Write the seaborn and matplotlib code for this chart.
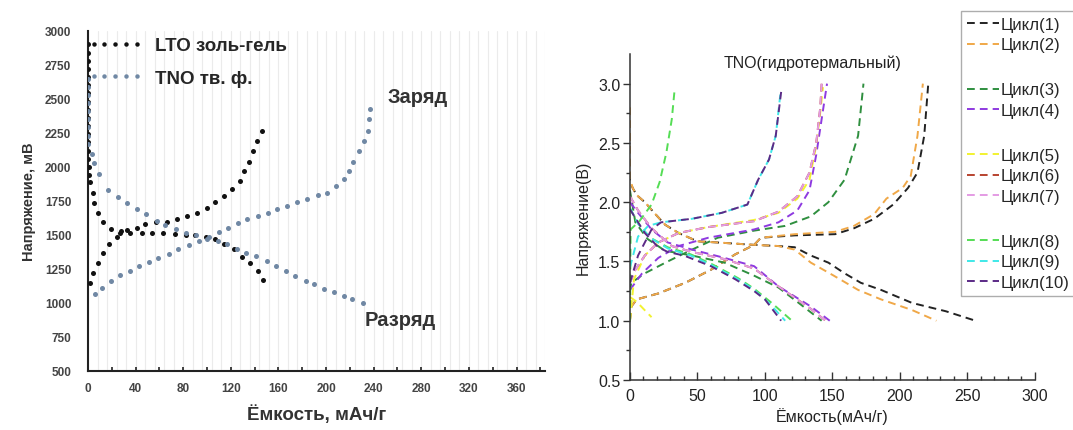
import matplotlib
matplotlib.use("Agg")
import matplotlib.pyplot as plt
from matplotlib.lines import Line2D
import pandas as pd
import seaborn as sns

# ---------- left panel: LTO vs TNO (mV vs mAh/g) ----------
lto_dis_x = [0, 0, 0, 0, 0, 0, 0, 0, 0, 0, 0, 0, 0, 0, 0, 1, 1, 2, 4, 5, 8, 13, 19, 27, 35, 45, 54, 63,
             73, 82, 90, 99, 107, 114, 123, 129, 136, 143, 147]
lto_dis_y = [2900, 2840, 2780, 2720, 2660, 2600, 2540, 2480, 2420, 2360, 2300, 2240, 2180, 2120, 2060,
             2000, 1940, 1890, 1810, 1733, 1664, 1596, 1542, 1517, 1512, 1512, 1512, 1512, 1507, 1502,
             1497, 1488, 1468, 1431, 1399, 1341, 1297, 1235, 1169]
lto_ch_x = [2, 4, 8, 13, 18, 24, 28, 33, 41, 48, 57, 66, 75, 83, 92, 100, 107, 114, 121, 128, 131, 135,
            139, 142, 146]
lto_ch_y = [1150, 1223, 1297, 1365, 1431, 1488, 1527, 1537, 1554, 1578, 1596, 1596, 1615, 1640, 1664,
            1701, 1743, 1787, 1841, 1897, 1971, 2037, 2118, 2191, 2265]

tno_dis_x = [0, 0, 0, 0, 0, 0, 0, 0, 0, 3, 5, 9, 17, 25, 33, 41, 49, 58, 65, 74, 82, 91, 100, 109, 117,
             125, 133, 141, 150, 158, 166, 174, 183, 190, 198, 207, 215, 222, 231]
tno_dis_y = [2650, 2590, 2530, 2470, 2410, 2350, 2290, 2230, 2170, 2093, 2032, 1946, 1830, 1780, 1733,
             1689, 1652, 1603, 1571, 1542, 1517, 1497, 1473, 1456, 1431, 1399, 1370, 1346, 1309, 1272,
             1235, 1198, 1162, 1137, 1105, 1081, 1051, 1032, 1002]
tno_ch_x = [6, 12, 19, 27, 35, 43, 51, 59, 68, 76, 85, 93, 102, 110, 118, 126, 134, 143, 151, 159, 167,
            176, 184, 193, 201, 208, 215, 219, 223, 228, 232, 235, 236, 237]
tno_ch_y = [1064, 1113, 1162, 1204, 1235, 1272, 1301, 1333, 1358, 1395, 1424, 1456, 1488, 1522, 1554,
            1591, 1615, 1640, 1664, 1689, 1713, 1743, 1767, 1792, 1811, 1860, 1909, 1970, 2037, 2118,
            2191, 2265, 2350, 2424]

left_xticks = [0, 40, 80, 120, 160, 200, 240, 280, 320, 360]
left_yticks = [500, 750, 1000, 1250, 1500, 1750, 2000, 2250, 2500, 2750, 3000]

# ---------- right panel: TNO hydrothermal, 10 cycles (V vs mAh/g) ----------
c1_dis_x = [0, 0, 2, 5, 11, 18, 26, 36, 50, 65, 92, 110, 122, 134, 147, 159, 171, 186, 209, 234, 256]
c1_dis_y = [2.25, 2.18, 2.12, 2.06, 2.0, 1.91, 1.81, 1.74, 1.67, 1.66, 1.64, 1.63, 1.62, 1.55, 1.49,
            1.40, 1.32, 1.26, 1.15, 1.08, 1.0]
c1_ch_x = [0, 1, 5, 21, 41, 60, 78, 92, 97, 122, 152, 166, 181, 195, 206, 213, 218, 221]
c1_ch_y = [1.0, 1.12, 1.18, 1.23, 1.32, 1.43, 1.56, 1.64, 1.70, 1.72, 1.73, 1.78, 1.86, 1.98, 2.12,
           2.25, 2.56, 3.0]

c2_dis_x = [0, 0, 0, 2, 5, 11, 18, 26, 36, 50, 65, 92, 110, 122, 134, 151, 169, 186, 209, 227]
c2_dis_y = [2.8, 2.5, 2.2, 2.12, 2.06, 2.0, 1.91, 1.81, 1.74, 1.67, 1.66, 1.64, 1.63, 1.60, 1.49, 1.38,
            1.26, 1.18, 1.09, 1.0]
c2_ch_x = [0, 1, 5, 21, 41, 60, 78, 92, 97, 122, 152, 166, 181, 190, 202, 208, 213, 217]
c2_ch_y = [1.0, 1.12, 1.18, 1.23, 1.32, 1.43, 1.56, 1.64, 1.70, 1.73, 1.75, 1.80, 1.90, 2.03, 2.12,
           2.22, 2.56, 3.0]

c3_dis_x = [0, 4, 13, 26, 46, 70, 92, 110, 125, 142]
c3_dis_y = [2.1, 1.83, 1.69, 1.59, 1.55, 1.49, 1.38, 1.28, 1.15, 1.0]
c3_ch_x = [0, 1, 11, 28, 46, 65, 92, 115, 134, 147, 159, 169, 173]
c3_ch_y = [1.25, 1.32, 1.40, 1.50, 1.60, 1.70, 1.76, 1.80, 1.88, 2.0, 2.19, 2.56, 3.0]

c4_dis_x = [0, 6, 16, 28, 46, 70, 92, 110, 134, 148]
c4_dis_y = [2.0, 1.91, 1.77, 1.66, 1.60, 1.53, 1.46, 1.29, 1.12, 1.0]
c4_ch_x = [0, 9, 21, 36, 58, 92, 110, 124, 133, 138, 142, 146]
c4_ch_y = [1.26, 1.40, 1.53, 1.63, 1.70, 1.77, 1.83, 1.93, 2.10, 2.40, 2.70, 3.0]

c5_dis_x = [0, 5, 10, 16]
c5_dis_y = [1.2, 1.16, 1.10, 1.03]
c5_ch_x = [0, 3, 11, 21, 36, 58, 92, 110, 124, 133, 138, 141, 143]
c5_ch_y = [1.0, 1.35, 1.55, 1.66, 1.74, 1.79, 1.85, 1.91, 2.03, 2.19, 2.48, 2.76, 2.97]

c6_dis_x = [0, 6, 16, 31, 46, 70, 92, 110, 134, 145]
c6_dis_y = [2.05, 1.93, 1.78, 1.63, 1.58, 1.52, 1.44, 1.29, 1.10, 1.0]
c6_ch_x = [0, 4, 11, 21, 36, 58, 92, 110, 124, 133, 138, 141, 142]
c6_ch_y = [1.32, 1.43, 1.55, 1.66, 1.74, 1.79, 1.84, 1.92, 2.05, 2.25, 2.5, 2.8, 3.0]

c7_dis_x = [0, 6, 16, 31, 46, 70, 92, 110, 134, 145]
c7_dis_y = [2.05, 1.93, 1.78, 1.63, 1.58, 1.52, 1.44, 1.29, 1.10, 1.0]
c7_ch_x = [0, 4, 11, 21, 36, 58, 92, 110, 124, 133, 138, 141, 142]
c7_ch_y = [1.32, 1.43, 1.55, 1.66, 1.74, 1.79, 1.84, 1.92, 2.05, 2.25, 2.5, 2.8, 3.0]

c8_dis_x = [0, 6, 15, 28, 45, 62, 80, 92, 105, 120]
c8_dis_y = [1.95, 1.82, 1.70, 1.62, 1.56, 1.47, 1.36, 1.27, 1.15, 1.0]
c8_ch_x = [0, 0.5, 7, 16, 22, 27, 31, 33]
c8_ch_y = [1.0, 1.77, 1.84, 1.98, 2.17, 2.42, 2.70, 2.94]

c9_dis_x = [0, 6, 15, 28, 45, 62, 80, 92, 103, 115]
c9_dis_y = [1.95, 1.82, 1.70, 1.61, 1.55, 1.46, 1.35, 1.26, 1.15, 1.0]
c9_ch_x = [0, 6, 13.5, 23, 46, 68, 87, 95, 103, 108, 111.6]
c9_ch_y = [1.45, 1.71, 1.80, 1.83, 1.86, 1.91, 1.98, 2.19, 2.36, 2.56, 2.93]

c10_dis_x = [0, 11, 21, 28, 40, 60, 78, 92, 100, 112]
c10_dis_y = [1.94, 1.74, 1.62, 1.58, 1.55, 1.46, 1.35, 1.25, 1.18, 1.0]
c10_ch_x = [0, 6, 16, 23, 46, 68, 87, 95, 103, 108, 112]
c10_ch_y = [1.32, 1.55, 1.77, 1.83, 1.86, 1.91, 1.98, 2.19, 2.36, 2.56, 2.93]

cycle_labels = ["Цикл(1)", "Цикл(2)", "Цикл(3)", "Цикл(4)", "Цикл(5)",
                "Цикл(6)", "Цикл(7)", "Цикл(8)", "Цикл(9)", "Цикл(10)"]
cycle_colors = ["#222222", "#f0a848", "#2f8f3f", "#8e3ae0", "#f2f230",
                "#b8432f", "#e49be4", "#55dd55", "#3fe8e8", "#5b2a86"]
cycle_curves = [
    (c1_dis_x, c1_dis_y, c1_ch_x, c1_ch_y), (c2_dis_x, c2_dis_y, c2_ch_x, c2_ch_y),
    (c3_dis_x, c3_dis_y, c3_ch_x, c3_ch_y), (c4_dis_x, c4_dis_y, c4_ch_x, c4_ch_y),
    (c5_dis_x, c5_dis_y, c5_ch_x, c5_ch_y), (c6_dis_x, c6_dis_y, c6_ch_x, c6_ch_y),
    (c7_dis_x, c7_dis_y, c7_ch_x, c7_ch_y), (c8_dis_x, c8_dis_y, c8_ch_x, c8_ch_y),
    (c9_dis_x, c9_dis_y, c9_ch_x, c9_ch_y), (c10_dis_x, c10_dis_y, c10_ch_x, c10_ch_y),
]
legend_groups = [[0, 1], [2, 3], [4, 5, 6], [7, 8, 9]]

sns.set_theme(style="white")
plt.rcParams["font.family"] = ["Liberation Sans", "DejaVu Sans"]

fig = plt.figure(figsize=(10.73, 4.31), dpi=100)

# ---------------- left ----------------
ax1 = fig.add_axes([0.082, 0.137, 0.426, 0.789])
for gx in range(8, 392, 8):
    ax1.axvline(gx, color="#ebebeb", lw=0.8, zorder=0)

lto_color = "#111111"
tno_color = "#7088a4"
for xs, ys, col in [(lto_dis_x, lto_dis_y, lto_color), (lto_ch_x, lto_ch_y, lto_color),
                    (tno_dis_x, tno_dis_y, tno_color), (tno_ch_x, tno_ch_y, tno_color)]:
    sns.scatterplot(x=xs, y=ys, ax=ax1, color=col, s=13, linewidth=0, zorder=3)

ax1.set_xlim(0, 384)
ax1.set_ylim(500, 3000)
ax1.set_xticks(left_xticks)
ax1.set_xticks([20, 60, 100, 140, 180, 220, 260, 300, 340, 380], minor=True)
ax1.set_yticks(left_yticks)
ax1.tick_params(axis="x", which="both", direction="in", length=3, width=1.2, color="#222",
                labelsize=8.5, labelcolor="#444", pad=8, bottom=True)
ax1.tick_params(axis="y", direction="in", length=0, labelsize=8.5, labelcolor="#444", pad=12)
for lab in ax1.get_xticklabels() + ax1.get_yticklabels():
    lab.set_fontweight("bold")
for side in ["top", "right"]:
    ax1.spines[side].set_visible(False)
for side in ["left", "bottom"]:
    ax1.spines[side].set_color("#222")
    ax1.spines[side].set_linewidth(1.5)
ax1.set_ylabel("Напряжение, мВ", fontsize=10.5, fontweight="bold", color="#333", labelpad=6)
ax1.set_xlabel("Ёмкость, мАч/г", fontsize=13.5, fontweight="bold", color="#333", labelpad=7)

lh = [Line2D([], [], ls="none", marker="o", ms=3.2, color=lto_color, mec="none"),
      Line2D([], [], ls="none", marker="o", ms=3.2, color=tno_color, mec="none")]
ax1.legend(lh, ["LTO золь-гель", "TNO тв. ф."], loc="upper left", bbox_to_anchor=(0.0, 0.982),
           frameon=False, numpoints=5, handlelength=2.9, handletextpad=0.7, labelspacing=0.82,
           borderpad=0, borderaxespad=0, prop={"weight": "bold", "size": 13.5})
ax1.text(252, 2520, "Заряд", fontsize=14.5, fontweight="bold", color="#333", va="center")
ax1.text(232, 880, "Разряд", fontsize=14.5, fontweight="bold", color="#333", va="center")

# ---------------- right ----------------
ax2 = fig.add_axes([0.5871, 0.116, 0.3774, 0.7564])
for (dx, dy, cx, cy), col in zip(cycle_curves, cycle_colors):
    for xs, ys in [(dx, dy), (cx, cy)]:
        df = pd.DataFrame({"x": xs, "y": ys})
        sns.lineplot(data=df, x="x", y="y", ax=ax2, sort=False, estimator=None, color=col,
                     lw=1.4, dashes=False, linestyle=(0, (4, 2.6)))

ax2.set_xlim(0, 300)
ax2.set_ylim(0.5, 3.25)
ax2.set_xticks([0, 50, 100, 150, 200, 250, 300])
ax2.set_xticks(range(10, 300, 10), minor=True)
ax2.set_yticks([0.5, 1.0, 1.5, 2.0, 2.5, 3.0])
ax2.set_yticks([0.75, 1.25, 1.75, 2.25, 2.75], minor=True)
ax2.set_yticklabels(["0.5", "1.0", "1.5", "2.0", "2.5", "3.0"])
ax2.tick_params(axis="x", which="major", direction="in", length=6, width=1, color="#333",
                labelsize=11.5, labelcolor="#222", bottom=True, pad=6)
ax2.tick_params(axis="x", which="minor", direction="in", length=3, width=1, color="#333", bottom=True)
ax2.tick_params(axis="y", which="major", direction="out", length=5, width=1, color="#333",
                labelsize=11.5, labelcolor="#222", left=True, pad=2)
ax2.tick_params(axis="y", which="minor", direction="out", length=3, width=1, color="#333", left=True)
for side in ["top", "right"]:
    ax2.spines[side].set_visible(False)
for side in ["left", "bottom"]:
    ax2.spines[side].set_color("#333")
    ax2.spines[side].set_linewidth(1.1)
ax2.set_xlabel("Ёмкость(мАч/г)", fontsize=11.5, color="#222", labelpad=3)
ax2.set_ylabel("Напряжение(В)", fontsize=11.5, color="#222", labelpad=5)
ax2.text(0.45, 0.975, "TNO(гидротермальный)", transform=ax2.transAxes, ha="center", va="center",
         fontsize=11.5, color="#222")

handles, labels = [], []
for gi, grp in enumerate(legend_groups):
    if gi > 0:
        handles.append(Line2D([], [], color="none"))
        labels.append(" ")
    for i in grp:
        handles.append(Line2D([], [], color=cycle_colors[i], lw=1.4, linestyle=(0, (4, 2.6))))
        labels.append(cycle_labels[i])
leg = fig.legend(handles, labels, loc="upper left", bbox_to_anchor=(961 / 1073, 1 - 12 / 431),
                 fontsize=12, handlelength=1.9, handletextpad=0.1, labelspacing=0.33,
                 borderpad=0.35, borderaxespad=0, frameon=True, fancybox=False,
                 edgecolor="#999999")
leg.get_frame().set_linewidth(1.0)
for t in leg.get_texts():
    if t.get_text() == " ":
        t.set_fontsize(15)

fig.savefig("out.png", dpi=100)
